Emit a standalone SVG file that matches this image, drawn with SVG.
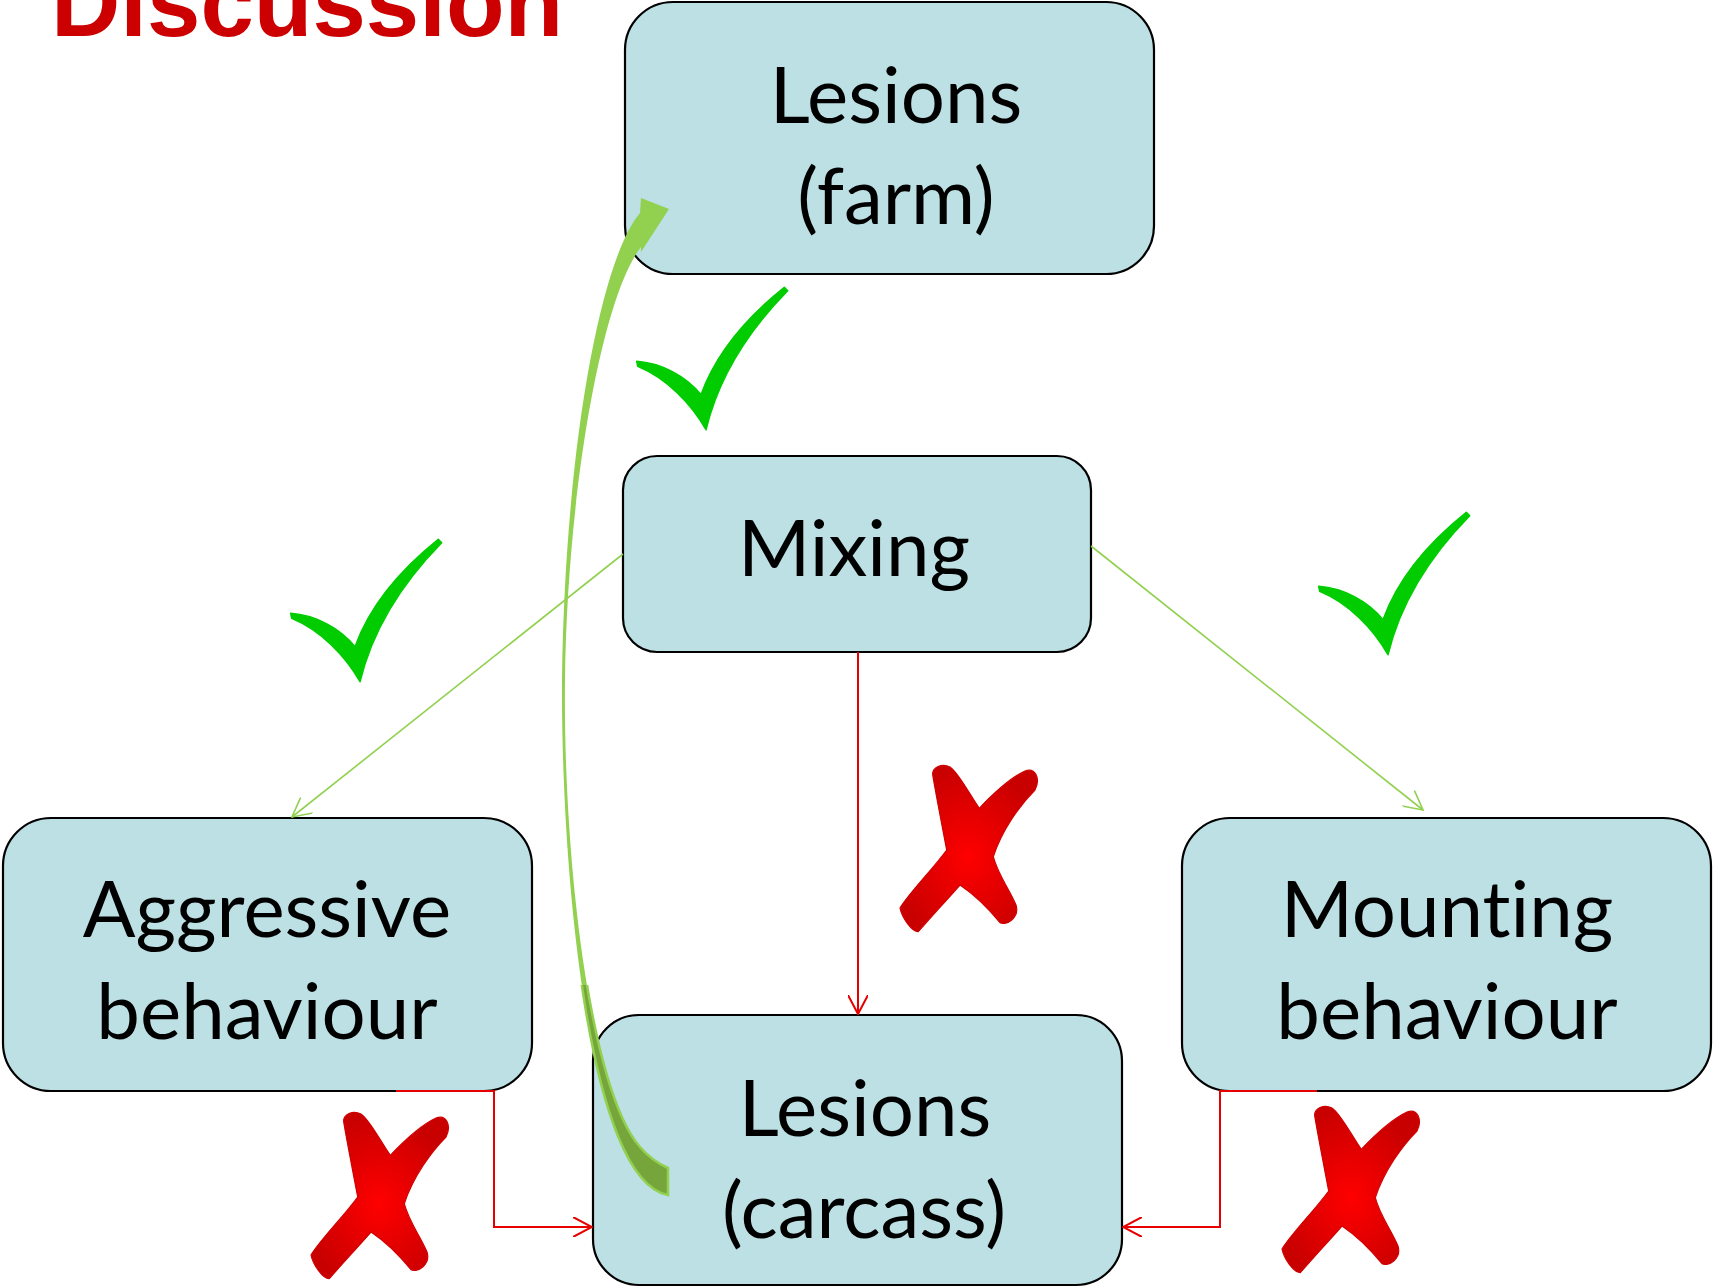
<svg xmlns="http://www.w3.org/2000/svg" xmlns:xlink="http://www.w3.org/1999/xlink" width="1713" height="1287" viewBox="0 0 1713 1287">
<defs>
<style>
.box{fill:#BCE0E4;stroke:#000;stroke-width:2.2}
.lbl{font-family:Lato,"Liberation Sans",sans-serif;font-size:78px;fill:#000;text-anchor:middle;font-variant-ligatures:none;font-feature-settings:"liga" 0,"clig" 0}
.g{stroke:#92D050;stroke-width:1.6;fill:none}
.r{stroke:#E60000;stroke-width:2;fill:none}
.chk{fill:#00CC00;stroke:#00CC00;stroke-width:1.5;stroke-linejoin:round}
.x{fill:url(#xg);stroke:#D00000;stroke-width:1.2;stroke-linejoin:round}
</style>
<radialGradient id="xg" cx="0.5" cy="0.55" r="0.55">
<stop offset="0" stop-color="#FF0000"/>
<stop offset="1" stop-color="#C80000"/>
</radialGradient>
<marker id="ag" viewBox="0 0 20 20" refX="19" refY="10" markerWidth="20" markerHeight="20" markerUnits="userSpaceOnUse" orient="auto">
<path d="M0,0 L19,10 L0,20" fill="none" stroke="#92D050" stroke-width="1.6"/>
</marker>
<marker id="ar" viewBox="0 0 20 20" refX="19" refY="10" markerWidth="20" markerHeight="20" markerUnits="userSpaceOnUse" orient="auto">
<path d="M0,0 L19,10 L0,20" fill="none" stroke="#E60000" stroke-width="2"/>
</marker>
<path id="check" class="chk" d="M20.7,93.3 C45,95 70,108 85,126.7 C100,85 130,50 168.3,19.3 L171.7,22.7 C140,55 105,100 90,161.7 C75,135 50,110 21.7,98.3 Z"/>
<path id="cross" class="x" d="M52.7,35 C52,27 62,23 70,27 C78,32 90,55 99.3,68.3 C110,57 130,38 145,31 C155,27 161,38 155,50 C140,65 122,90 113.3,116.7 C118,135 130,150 136,165 C140,178 126,186 120,182.7 C108,168 95,155 80,145 C65,162 50,178 38.3,191.7 C32,192 22,178 20,168 C30,152 52,130 66.7,110 C62,85 56,55 52.7,35 Z"/>
<path id="arrowShape" d="M640,213 C600,260 565,450 562,680 C561,870 588,1180 668,1195 L668,1168 C655,1162 645,1153 640,1147 C590,1090 563,860 565,680 C567,500 600,300 641,247 L641,252 L669,209 L641,198 Z"/>
<clipPath id="lowclip"><rect x="500" y="985" width="250" height="302"/></clipPath>
</defs>
<rect width="1713" height="1287" fill="#fff"/>
<text x="51" y="36" font-family="'Liberation Sans',Arial,sans-serif" font-weight="bold" font-size="96" fill="#CC0000">Discussion</text>

<g id="node-lesions-farm">
<rect class="box" x="625" y="2" width="529" height="272" rx="48"/>
<text class="lbl" x="896" y="123">Lesions</text>
<text class="lbl" x="896" y="224">(farm)</text>
</g>
<g id="node-mixing">
<rect class="box" x="623" y="456" width="468" height="196" rx="34"/>
<text class="lbl" x="854" y="576">Mixing</text>
</g>
<g id="node-aggressive">
<rect class="box" x="3" y="818" width="529" height="273" rx="48"/>
<text class="lbl" x="267" y="937">Aggressive</text>
<text class="lbl" x="267" y="1039">behaviour</text>
</g>
<g id="node-mounting">
<rect class="box" x="1182" y="818" width="529" height="273" rx="48"/>
<text class="lbl" x="1447" y="937">Mounting</text>
<text class="lbl" x="1447" y="1039">behaviour</text>
</g>
<g id="node-lesions-carcass">
<rect class="box" x="593" y="1015" width="529" height="270" rx="46"/>
<text class="lbl" x="865" y="1136">Lesions</text>
<text class="lbl" x="864" y="1238">(carcass)</text>
</g>

<g id="connectors">
<line class="g" x1="623" y1="554" x2="292" y2="817" marker-end="url(#ag)"/>
<line class="g" x1="1091" y1="546" x2="1423" y2="810" marker-end="url(#ag)"/>
<line class="r" x1="858" y1="652" x2="858" y2="1014" marker-end="url(#ar)"/>
<path class="r" d="M396,1091 H494 V1227 H592" marker-end="url(#ar)"/>
<path class="r" d="M1317,1091 H1220 V1227 H1123" marker-end="url(#ar)"/>
</g>

<g id="curved-arrow">
<use xlink:href="#arrowShape" fill="#92D050"/>
<use xlink:href="#arrowShape" fill="#76A53B" stroke="#92D050" stroke-width="2.5" clip-path="url(#lowclip)"/>
</g>

<g id="marks">
<use xlink:href="#check" transform="translate(616,268)"/>
<use xlink:href="#check" transform="translate(270,520)"/>
<use xlink:href="#check" transform="translate(1298,493)"/>
<use xlink:href="#cross" transform="translate(880,740)"/>
<use xlink:href="#cross" transform="translate(291,1087)"/>
<use xlink:href="#cross" transform="translate(1262,1081)"/>
</g>
</svg>
